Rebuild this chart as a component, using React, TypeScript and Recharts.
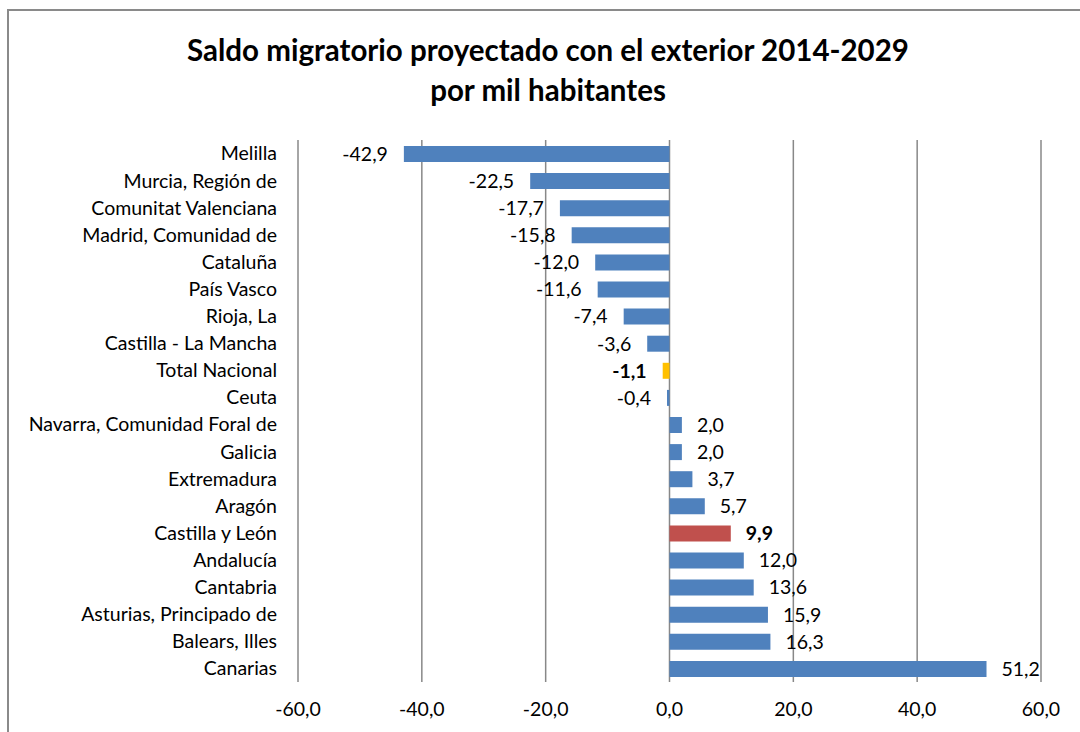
import React from 'react';
import { BarChart, Bar, XAxis, YAxis, CartesianGrid, Cell, LabelList } from 'recharts';

const regions = [
  'Melilla',
  'Murcia, Región de',
  'Comunitat Valenciana',
  'Madrid, Comunidad de',
  'Cataluña',
  'País Vasco',
  'Rioja, La',
  'Castilla - La Mancha',
  'Total Nacional',
  'Ceuta',
  'Navarra, Comunidad Foral de',
  'Galicia',
  'Extremadura',
  'Aragón',
  'Castilla y León',
  'Andalucía',
  'Cantabria',
  'Asturias, Principado de',
  'Balears, Illes',
  'Canarias',
];

const saldo = [
  -42.9, -22.5, -17.7, -15.8, -12.0, -11.6, -7.4, -3.6, -1.1, -0.4,
  2.0, 2.0, 3.7, 5.7, 9.9, 12.0, 13.6, 15.9, 16.3, 51.2,
];

const xTicks = [-60, -40, -20, 0, 20, 40, 60];

const highlight: Record<string, string> = {
  'Total Nacional': '#FFC000',
  'Castilla y León': '#C0504D',
};

const data = regions.map((name, i) => ({ name, value: saldo[i] }));

const FONT = 'Lato, "Open Sans", sans-serif';
const FS = 19.5;
const fmt = (v: number) => v.toFixed(1).replace('.', ',');

const ValueLabel = (props: any) => {
  const { x, y, width, height, value, index } = props;
  const bold = !!highlight[regions[index]];
  const cy = y + height / 2;
  if (value < 0) {
    return (
      <text x={x + width - 16} y={cy} dy="0.35em" textAnchor="end" fontSize={FS} fontFamily={FONT} fontWeight={bold ? 700 : 400} fill="#000">
        {fmt(value)}
      </text>
    );
  }
  return (
    <text x={x + width + 15} y={cy} dy="0.35em" textAnchor="start" fontSize={FS} fontFamily={FONT} fontWeight={bold ? 700 : 400} fill="#000">
      {fmt(value)}
    </text>
  );
};

const App = () => {
  return (
    <div style={{ position: 'relative', width: 1080, height: 732, background: '#fff', overflow: 'hidden', fontFamily: FONT }}>
      <style>{`body{margin:0;overflow:hidden}`}</style>
      <div style={{ position: 'absolute', left: 7, top: 9, width: 1200, height: 900, borderTop: '2px solid #8a8a8a', borderLeft: '2px solid #8a8a8a' }} />
      <div style={{ position: 'absolute', left: 0, top: 30, width: 1096, textAlign: 'center', fontWeight: 700, fontSize: 29.5, lineHeight: '40px', color: '#000' }}>
        Saldo migratorio proyectado con el exterior 2014-2029
        <br />
        por mil habitantes
      </div>
      <div style={{ position: 'absolute', left: 0, top: 0 }}>
        <BarChart
          width={1080}
          height={732}
          data={data}
          layout="vertical"
          margin={{ top: 140, right: 39, bottom: 20, left: 0 }}
        >
          <CartesianGrid horizontal={false} stroke="#888" strokeWidth={1.5} />
          <XAxis
            type="number"
            domain={[-60, 60]}
            ticks={xTicks}
            tickFormatter={fmt}
            axisLine={false}
            tickLine={false}
            tickSize={0}
            tickMargin={20}
            height={30}
            tick={{ fontSize: FS, fontFamily: FONT, fill: '#000' }}
          />
          <YAxis
            type="category"
            dataKey="name"
            width={298}
            axisLine={false}
            tickLine={false}
            tickSize={0}
            tickMargin={21}
            interval={0}
            tick={{ fontSize: FS, fontFamily: FONT, fill: '#000' }}
          />
          <Bar dataKey="value" barSize={16} isAnimationActive={false}>
            {data.map((d, i) => (
              <Cell key={i} fill={highlight[d.name] || '#4F81BD'} />
            ))}
            <LabelList dataKey="value" content={<ValueLabel />} />
          </Bar>
        </BarChart>
      </div>
    </div>
  );
};

export default App;
